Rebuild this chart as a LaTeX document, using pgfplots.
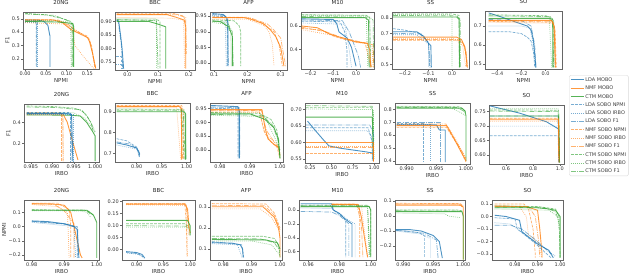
\documentclass[border=0pt]{standalone}
\usepackage{fontspec}
\setmainfont{DejaVu Sans}
\usepackage{pgfplots}
\pgfplotsset{compat=1.18}
\definecolor{tb}{HTML}{1F77B4}
\definecolor{to}{HTML}{FF7F0E}
\definecolor{tg}{HTML}{2CA02C}
\newcommand\fs{\fontsize{5}{6}\selectfont}
\newcommand\ft{\fontsize{5.5}{6.5}\selectfont}
\newcommand\pl[2]{\addplot[#1] coordinates {#2};}
\pgfplotsset{
 panel/.style={scale only axis, anchor=south west, tick pos=left, tick align=outside,
   major tick length=1.8bp, axis line style={black!60, line width=0.5bp},
   every tick/.style={black!60, line width=0.4bp},
   ticklabel style={font=\fs, text=black!80, inner sep=1.3bp},
   title style={font=\ft, text=black!85, at={(0.5,1)}, anchor=south, inner sep=1.2bp},
   xlabel style={font=\ft, text=black!80, inner sep=1bp},
   ylabel style={font=\ft, text=black!80, inner sep=1bp},
   every axis plot/.append style={line join=round, mark=none}},
 mobo/.style={line width=0.9bp, opacity=0.8},
 sn/.style={line width=0.7bp, opacity=0.6, dash pattern=on 2.8bp off 1.2bp},
 si/.style={line width=0.7bp, opacity=0.6, dash pattern=on 0.75bp off 1.25bp},
 sf/.style={line width=0.7bp, opacity=0.6, dash pattern=on 4.8bp off 1.2bp on 0.75bp off 1.2bp},
 Lm/.style={tb, mobo}, Ln/.style={tb, sn}, Li/.style={tb, si}, Lf/.style={tb, sf},
 Nm/.style={to, mobo}, Nn/.style={to, sn}, Ni/.style={to, si}, Nf/.style={to, sf},
 Cm/.style={tg, mobo}, Cn/.style={tg, sn}, Ci/.style={tg, si}, Cf/.style={tg, sf},
}
\begin{document}
\begin{tikzpicture}
\useasboundingbox (0,0) rectangle (640bp,277bp);
% ---------------- Row 1 : F1 vs NPMI ----------------
\begin{axis}[panel, at={(23bp,208bp)}, width=76bp, height=57bp, title={20NG}, xlabel={NPMI}, ylabel={F1},
 xmin=-0.005, xmax=0.178, ymin=0.125, ymax=0.55,
 xtick={0,0.05,0.1,0.15}, xticklabels={0.00,0.05,0.10,0.15}, ytick={0.2,0.3,0.4,0.5}, yticklabels={0.2,0.3,0.4,0.5}]
\pl{Lm}{(0,0.49)(0.03,0.49)(0.045,0.48)(0.055,0.45)(0.058,0.40)(0.06,0.37)(0.06,0.14)}
\pl{Ln}{(0,0.48)(0.025,0.48)(0.027,0.46)(0.027,0.14)}
\pl{Li}{(0,0.47)(0.03,0.47)(0.03,0.14)}
\pl{Lf}{(0,0.485)(0.026,0.485)(0.028,0.45)(0.028,0.14)}
\pl{Nm}{(0,0.49)(0.07,0.49)(0.09,0.47)(0.11,0.42)(0.13,0.39)(0.15,0.36)(0.155,0.33)(0.162,0.25)(0.17,0.13)}
\pl{Nn}{(0,0.495)(0.06,0.495)(0.1,0.47)(0.12,0.41)(0.15,0.37)(0.16,0.3)(0.168,0.13)}
\pl{Ni}{(0,0.47)(0.1,0.46)(0.115,0.40)(0.12,0.3)(0.14,0.22)(0.165,0.13)}
\pl{Nf}{(0,0.49)(0.08,0.49)(0.11,0.44)(0.14,0.38)(0.155,0.35)(0.165,0.2)(0.17,0.13)}
\pl{Cm}{(0,0.48)(0.08,0.475)(0.115,0.465)(0.117,0.44)(0.117,0.14)}
\pl{Cn}{(0,0.54)(0.05,0.53)(0.09,0.5)(0.11,0.48)(0.113,0.45)(0.113,0.14)}
\pl{Ci}{(0,0.49)(0.1,0.48)(0.11,0.45)(0.111,0.14)}
\pl{Cf}{(0,0.535)(0.07,0.525)(0.1,0.49)(0.115,0.46)(0.115,0.14)}
\end{axis}
\begin{axis}[panel, at={(115bp,207bp)}, width=80bp, height=58bp, title={BBC}, xlabel={NPMI},
 xmin=-0.04, xmax=0.22, ymin=0.72, ymax=0.935,
 xtick={0,0.1,0.2}, xticklabels={0.0,0.1,0.2}, ytick={0.75,0.8,0.85,0.9}, yticklabels={0.75,0.80,0.85,0.90}]
\pl{Lm}{(-0.033,0.905)(-0.028,0.90)(-0.022,0.85)(-0.017,0.80)(-0.012,0.725)}
\pl{Ln}{(-0.036,0.77)(-0.02,0.77)(-0.02,0.725)}
\pl{Li}{(-0.036,0.74)(-0.015,0.74)(-0.015,0.725)}
\pl{Lf}{(-0.035,0.905)(-0.03,0.9)(-0.02,0.82)(-0.014,0.725)}
\pl{Nm}{(-0.035,0.925)(0.13,0.925)(0.16,0.915)(0.185,0.905)(0.19,0.88)(0.19,0.725)}
\pl{Nn}{(-0.035,0.93)(0.15,0.93)(0.183,0.92)(0.188,0.90)(0.188,0.78)}
\pl{Ni}{(-0.035,0.915)(0.14,0.912)(0.183,0.905)(0.186,0.725)}
\pl{Nf}{(-0.035,0.927)(0.16,0.925)(0.19,0.915)(0.192,0.78)}
\pl{Cm}{(-0.035,0.90)(0.07,0.90)(0.1,0.89)(0.125,0.88)(0.125,0.725)}
\pl{Cn}{(-0.035,0.905)(0.1,0.905)(0.106,0.9)(0.106,0.725)}
\pl{Ci}{(-0.035,0.91)(0.094,0.91)(0.096,0.725)}
\pl{Cf}{(-0.035,0.907)(0.095,0.903)(0.1,0.725)}
\end{axis}
\begin{axis}[panel, at={(210bp,207bp)}, width=77bp, height=58bp, title={AFP}, xlabel={NPMI},
 xmin=0.088, xmax=0.319, ymin=0.778, ymax=0.963,
 xtick={0.1,0.2,0.3}, xticklabels={0.1,0.2,0.3}, ytick={0.8,0.85,0.9,0.95}, yticklabels={0.80,0.85,0.90,0.95}]
\pl{Lm}{(0.095,0.958)(0.128,0.955)(0.138,0.945)(0.142,0.93)(0.142,0.79)}
\pl{Ln}{(0.095,0.95)(0.135,0.948)(0.14,0.93)(0.14,0.79)}
\pl{Li}{(0.095,0.952)(0.133,0.95)(0.137,0.79)}
\pl{Lf}{(0.095,0.955)(0.13,0.952)(0.14,0.94)(0.143,0.79)}
\pl{Nm}{(0.095,0.945)(0.19,0.945)(0.21,0.94)(0.25,0.925)(0.27,0.905)(0.285,0.885)(0.3,0.85)(0.31,0.79)}
\pl{Nn}{(0.095,0.947)(0.2,0.946)(0.24,0.93)(0.26,0.915)(0.28,0.9)(0.295,0.86)(0.305,0.79)}
\pl{Ni}{(0.095,0.94)(0.2,0.94)(0.25,0.92)(0.265,0.9)(0.275,0.86)(0.28,0.79)}
\pl{Nf}{(0.095,0.946)(0.21,0.944)(0.26,0.925)(0.28,0.905)(0.3,0.88)(0.315,0.79)}
\pl{Cm}{(0.095,0.935)(0.12,0.932)(0.145,0.915)(0.155,0.885)(0.155,0.79)}
\pl{Cn}{(0.095,0.938)(0.16,0.935)(0.175,0.92)(0.18,0.9)(0.18,0.79)}
\pl{Ci}{(0.095,0.93)(0.13,0.925)(0.15,0.9)(0.152,0.79)}
\pl{Cf}{(0.095,0.933)(0.14,0.93)(0.155,0.9)(0.158,0.79)}
\end{axis}
\begin{axis}[panel, at={(301bp,208bp)}, width=73bp, height=57bp, title={M10}, xlabel={NPMI},
 xmin=-0.242, xmax=0.079, ymin=0.237, ymax=0.718,
 xtick={-0.2,-0.1,0}, xticklabels={−0.2,−0.1,0.0}, ytick={0.4,0.6}, yticklabels={0.4,0.6}]
\pl{Cm}{(-0.24,0.67)(0.04,0.67)(0.055,0.65)(0.058,0.25)}
\pl{Cn}{(-0.24,0.695)(0.045,0.69)(0.06,0.67)(0.065,0.25)}
\pl{Ci}{(-0.24,0.69)(0.045,0.685)(0.052,0.25)}
\pl{Cf}{(-0.24,0.68)(0.06,0.675)(0.075,0.65)(0.078,0.25)}
\pl{Lm}{(-0.24,0.66)(-0.1,0.655)(-0.085,0.62)(-0.075,0.55)(-0.04,0.50)(-0.02,0.42)(0.0,0.26)}
\pl{Ln}{(-0.24,0.64)(-0.07,0.635)(-0.05,0.55)(-0.04,0.4)(-0.04,0.25)}
\pl{Li}{(-0.24,0.625)(-0.05,0.615)(-0.03,0.4)(-0.02,0.25)}
\pl{Lf}{(-0.24,0.65)(-0.06,0.645)(-0.03,0.55)(0.01,0.35)(0.02,0.25)}
\pl{Nm}{(-0.24,0.60)(-0.17,0.585)(-0.12,0.535)(-0.08,0.51)(-0.04,0.49)(0.0,0.465)(0.05,0.455)(0.06,0.40)(0.065,0.25)}
\pl{Nn}{(-0.24,0.58)(-0.15,0.565)(-0.1,0.515)(-0.05,0.485)(0.0,0.47)(0.04,0.455)(0.06,0.3)(0.07,0.25)}
\pl{Ni}{(-0.24,0.57)(-0.1,0.52)(0.0,0.46)(0.07,0.445)(0.075,0.25)}
\pl{Nf}{(-0.24,0.59)(-0.13,0.55)(-0.06,0.5)(0.02,0.465)(0.075,0.44)(0.078,0.25)}
\end{axis}
\begin{axis}[panel, at={(392bp,208bp)}, width=77bp, height=57bp, title={SS}, xlabel={NPMI},
 xmin=-0.255, xmax=0.072, ymin=0.47, ymax=0.837,
 xtick={-0.2,-0.1,0}, xticklabels={−0.2,−0.1,0.0}, ytick={0.5,0.6,0.7,0.8}, yticklabels={0.5,0.6,0.7,0.8}]
\pl{Cn}{(-0.25,0.825)(0.0,0.825)(0.03,0.815)(0.03,0.48)}
\pl{Ci}{(-0.25,0.82)(-0.01,0.82)(0.0,0.80)(0.0,0.48)}
\pl{Cm}{(-0.25,0.805)(0.02,0.805)(0.03,0.79)(0.032,0.48)}
\pl{Cf}{(-0.25,0.815)(0.02,0.812)(0.035,0.79)(0.035,0.48)}
\pl{Lm}{(-0.25,0.71)(-0.15,0.71)(-0.12,0.68)(-0.1,0.635)(-0.09,0.62)(-0.088,0.48)}
\pl{Ln}{(-0.25,0.73)(-0.2,0.72)(-0.14,0.70)(-0.1,0.64)(-0.095,0.48)}
\pl{Li}{(-0.25,0.69)(-0.15,0.69)(-0.1,0.63)(-0.1,0.48)}
\pl{Lf}{(-0.25,0.70)(-0.13,0.695)(-0.1,0.64)(-0.092,0.48)}
\pl{Nm}{(-0.25,0.675)(0.02,0.675)(0.04,0.66)(0.055,0.61)(0.065,0.48)}
\pl{Nn}{(-0.25,0.655)(0.03,0.655)(0.05,0.63)(0.06,0.55)(0.062,0.48)}
\pl{Ni}{(-0.25,0.665)(0.01,0.665)(0.045,0.62)(0.058,0.48)}
\pl{Nf}{(-0.25,0.66)(0.025,0.66)(0.045,0.64)(0.06,0.58)(0.066,0.48)}
\end{axis}
\begin{axis}[panel, at={(485bp,208bp)}, width=77bp, height=58bp, title={SO}, xlabel={NPMI},
 xmin=-0.5, xmax=0.135, ymin=0.472, ymax=0.78,
 xtick={-0.4,-0.2,0}, xticklabels={−0.4,−0.2,0.0}, ytick={0.5,0.6,0.7}, yticklabels={0.5,0.6,0.7}]
\pl{Lm}{(-0.47,0.77)(-0.35,0.745)(-0.25,0.722)(-0.15,0.70)(-0.12,0.68)(-0.1,0.62)(-0.09,0.55)(-0.08,0.48)}
\pl{Ln}{(-0.47,0.67)(-0.3,0.67)(-0.2,0.66)(-0.15,0.64)(-0.12,0.62)(-0.1,0.56)(-0.09,0.48)}
\pl{Li}{(-0.47,0.70)(-0.2,0.70)(-0.13,0.69)(-0.1,0.6)(-0.085,0.48)}
\pl{Lf}{(-0.47,0.735)(-0.2,0.73)(-0.12,0.70)(-0.09,0.6)(-0.08,0.48)}
\pl{Cn}{(-0.47,0.76)(0.0,0.755)(0.05,0.745)(0.068,0.72)(0.07,0.48)}
\pl{Cm}{(-0.47,0.74)(0.04,0.74)(0.058,0.72)(0.06,0.48)}
\pl{Ci}{(-0.47,0.75)(0.03,0.745)(0.05,0.48)}
\pl{Cf}{(-0.47,0.755)(0.04,0.75)(0.062,0.73)(0.065,0.48)}
\pl{Nm}{(-0.47,0.73)(0.05,0.73)(0.07,0.70)(0.08,0.48)}
\pl{Nn}{(-0.47,0.725)(0.06,0.72)(0.078,0.68)(0.088,0.48)}
\pl{Ni}{(-0.47,0.72)(0.065,0.715)(0.085,0.48)}
\pl{Nf}{(-0.47,0.728)(0.055,0.725)(0.075,0.69)(0.083,0.48)}
\end{axis}
% ---------------- Row 2 : F1 vs IRBO ----------------
\begin{axis}[panel, at={(24bp,115bp)}, width=75bp, height=58bp, title={20NG}, xlabel={IRBO}, ylabel={F1},
 xmin=0.9834, xmax=1.0009, ymin=0.022, ymax=0.574,
 xtick={0.985,0.99,0.995,1.0}, xticklabels={0.985,0.990,0.995,1.000}, ytick={0.2,0.4}, yticklabels={0.2,0.4}]
\pl{Cn}{(0.984,0.555)(0.99,0.55)(0.995,0.535)(0.997,0.51)(0.998,0.46)(0.999,0.40)(0.9995,0.32)}
\pl{Cm}{(0.984,0.47)(0.994,0.468)(0.9965,0.46)(0.998,0.40)(0.9993,0.32)(1.0,0.27)(1.0,0.03)}
\pl{Ci}{(0.984,0.49)(0.995,0.49)(0.9975,0.44)(0.9995,0.34)(1.0,0.30)}
\pl{Cf}{(0.984,0.545)(0.991,0.54)(0.9965,0.52)(0.998,0.47)(0.9992,0.38)(1.0,0.31)}
\pl{Nm}{(0.984,0.48)(0.9925,0.48)(0.9935,0.4)(0.9945,0.25)(0.996,0.04)}
\pl{Nn}{(0.984,0.485)(0.9922,0.485)(0.9922,0.03)}
\pl{Ni}{(0.984,0.47)(0.9924,0.47)(0.9926,0.03)}
\pl{Nf}{(0.984,0.49)(0.992,0.49)(0.9925,0.44)(0.9925,0.03)}
\pl{Lm}{(0.984,0.485)(0.993,0.485)(0.9945,0.475)(0.9948,0.03)}
\pl{Ln}{(0.984,0.49)(0.9942,0.49)(0.9942,0.03)}
\pl{Li}{(0.984,0.48)(0.995,0.48)(0.995,0.03)}
\pl{Lf}{(0.984,0.487)(0.9944,0.485)(0.9946,0.03)}
\end{axis}
\begin{axis}[panel, at={(115bp,115bp)}, width=75bp, height=59bp, title={BBC}, xlabel={IRBO},
 xmin=0.8567, xmax=1.0067, ymin=0.658, ymax=0.942,
 xtick={0.9,0.95,1.0}, xticklabels={0.90,0.95,1.00}, ytick={0.7,0.8,0.9}, yticklabels={0.7,0.8,0.9}]
\pl{Nm}{(0.86,0.925)(0.985,0.925)(0.99,0.915)(0.99,0.67)}
\pl{Nn}{(0.86,0.93)(0.99,0.93)(0.994,0.9)(0.994,0.67)}
\pl{Ni}{(0.86,0.92)(0.98,0.92)(0.988,0.67)}
\pl{Nf}{(0.86,0.927)(0.988,0.925)(0.992,0.67)}
\pl{Cm}{(0.86,0.90)(0.995,0.90)(0.998,0.89)(0.998,0.67)}
\pl{Cn}{(0.86,0.91)(0.99,0.91)(0.995,0.67)}
\pl{Ci}{(0.86,0.915)(0.995,0.912)(1.0,0.67)}
\pl{Cf}{(0.86,0.905)(0.993,0.905)(0.997,0.67)}
\pl{Lm}{(0.86,0.75)(0.88,0.74)(0.9,0.725)(0.905,0.70)(0.905,0.685)}
\pl{Ln}{(0.86,0.77)(0.88,0.76)(0.9,0.73)(0.906,0.69)}
\pl{Li}{(0.86,0.74)(0.9,0.72)(0.906,0.68)}
\pl{Lf}{(0.86,0.755)(0.885,0.745)(0.903,0.72)(0.907,0.69)}
\end{axis}
\begin{axis}[panel, at={(210bp,115bp)}, width=73bp, height=59bp, title={AFP}, xlabel={IRBO},
 xmin=0.9767, xmax=1.001, ymin=0.757, ymax=0.969,
 xtick={0.98,0.99,1.0}, xticklabels={0.98,0.99,1.00}, ytick={0.8,0.85,0.9,0.95}, yticklabels={0.80,0.85,0.90,0.95}]
\pl{Lm}{(0.977,0.96)(0.986,0.956)(0.9865,0.94)(0.9865,0.77)}
\pl{Ln}{(0.977,0.95)(0.986,0.948)(0.986,0.77)}
\pl{Li}{(0.977,0.952)(0.9862,0.95)(0.9862,0.77)}
\pl{Lf}{(0.977,0.955)(0.9866,0.952)(0.9866,0.77)}
\pl{Nm}{(0.977,0.945)(0.994,0.945)(0.995,0.88)(0.996,0.84)(0.998,0.82)(0.9995,0.81)(1.0,0.78)}
\pl{Nn}{(0.977,0.94)(0.993,0.94)(0.995,0.86)(0.997,0.83)(0.999,0.81)(1.0,0.77)}
\pl{Ni}{(0.977,0.935)(0.9935,0.935)(0.9945,0.87)(0.996,0.85)(0.999,0.82)(1.0,0.79)}
\pl{Nf}{(0.977,0.943)(0.9938,0.942)(0.9955,0.87)(0.998,0.83)(1.0,0.8)}
\pl{Cm}{(0.977,0.93)(0.99,0.93)(0.995,0.91)(0.998,0.88)(0.9995,0.84)(1.0,0.77)}
\pl{Cn}{(0.977,0.935)(0.993,0.932)(0.997,0.91)(0.999,0.87)(1.0,0.77)}
\pl{Ci}{(0.977,0.925)(0.995,0.92)(0.998,0.85)(1.0,0.8)}
\pl{Cf}{(0.977,0.928)(0.994,0.925)(0.9975,0.89)(0.9995,0.83)(1.0,0.78)}
\end{axis}
\begin{axis}[panel, at={(305bp,114bp)}, width=74bp, height=60bp, title={M10}, xlabel={IRBO},
 xmin=0.19, xmax=1.058, ymin=0.538, ymax=0.72,
 xtick={0.25,0.5,0.75,1.0}, xticklabels={0.25,0.50,0.75,1.00}, ytick={0.55,0.6,0.65,0.7}, yticklabels={0.55,0.60,0.65,0.70}]
\pl{Cf}{(0.2,0.712)(0.98,0.71)(0.995,0.56)}
\pl{Cn}{(0.2,0.706)(0.97,0.706)(0.99,0.69)(0.995,0.55)}
\pl{Cm}{(0.2,0.677)(0.98,0.677)(0.99,0.55)}
\pl{Ci}{(0.2,0.702)(0.99,0.70)(1.0,0.55)}
\pl{Lm}{(0.22,0.665)(0.3,0.64)(0.4,0.61)(0.47,0.59)(0.6,0.583)(0.9,0.572)(0.99,0.568)(0.99,0.545)}
\pl{Lf}{(0.2,0.653)(0.95,0.653)(0.99,0.63)(0.99,0.545)}
\pl{Li}{(0.2,0.636)(0.92,0.636)(0.97,0.62)(0.98,0.545)}
\pl{Ln}{(0.2,0.645)(0.93,0.645)(0.98,0.6)(0.98,0.545)}
\pl{Nm}{(0.2,0.60)(0.99,0.60)(0.99,0.545)}
\pl{Nn}{(0.2,0.568)(0.99,0.568)(0.99,0.545)}
\pl{Ni}{(0.2,0.59)(0.99,0.59)(0.99,0.545)}
\pl{Nf}{(0.2,0.585)(0.99,0.585)(0.99,0.545)}
\end{axis}
\begin{axis}[panel, at={(395bp,113bp)}, width=75bp, height=61bp, title={SS}, xlabel={IRBO},
 xmin=0.98803, xmax=1.00067, ymin=0.375, ymax=0.85,
 xtick={0.99,0.995,1.0}, xticklabels={0.990,0.995,1.000}, ytick={0.4,0.5,0.6,0.7,0.8}, yticklabels={0.4,0.5,0.6,0.7,0.8}]
\pl{Cm}{(0.9883,0.81)(0.9993,0.81)(0.9998,0.79)(1.0,0.75)(1.0,0.40)}
\pl{Cn}{(0.9883,0.82)(0.999,0.82)(0.9995,0.80)(1.0,0.78)}
\pl{Ci}{(0.9883,0.825)(0.997,0.82)(0.9985,0.79)(0.9993,0.77)(1.0,0.75)}
\pl{Cf}{(0.9883,0.815)(0.9985,0.815)(0.9995,0.79)(1.0,0.77)}
\pl{Lf}{(0.9883,0.70)(0.9957,0.70)(0.9957,0.39)}
\pl{Ln}{(0.9883,0.69)(0.9928,0.69)(0.9928,0.39)}
\pl{Li}{(0.9883,0.685)(0.994,0.685)(0.994,0.39)}
\pl{Lm}{(0.9883,0.68)(0.995,0.68)(0.9955,0.64)(0.9965,0.64)(0.9965,0.39)}
\pl{Nm}{(0.9883,0.675)(0.9967,0.675)(0.998,0.57)(1.0,0.40)}
\pl{Nn}{(0.9883,0.66)(0.9967,0.66)(0.9985,0.53)(1.0,0.39)}
\pl{Ni}{(0.9883,0.665)(0.997,0.665)(0.9985,0.55)(1.0,0.41)}
\pl{Nf}{(0.9883,0.687)(0.9966,0.687)(0.9982,0.56)(1.0,0.42)}
\end{axis}
\begin{axis}[panel, at={(489bp,113bp)}, width=75bp, height=59bp, title={SO}, xlabel={IRBO},
 xmin=0.474, xmax=1.03, ymin=0.569, ymax=0.773,
 xtick={0.6,0.8,1.0}, xticklabels={0.6,0.8,1.0}, ytick={0.6,0.65,0.7,0.75}, yticklabels={0.60,0.65,0.70,0.75},
 legend style={at={(1.067,1.508)}, anchor=north west, font=\fs, text=black!75, draw=black!15, rounded corners=1.5bp,
   inner sep=1.2bp, row sep=1.3bp, nodes={text height=4bp, text depth=1bp, inner sep=1bp},
   /tikz/every even column/.append style={column sep=1bp}},
 legend cell align=left,
 legend image code/.code={\draw[#1] (0bp,0bp) -- (13bp,0bp);}]
\addlegendimage{Lm}\addlegendimage{Nm}\addlegendimage{Cm}
\addlegendimage{Ln}\addlegendimage{Li}\addlegendimage{Lf}
\addlegendimage{Nn}\addlegendimage{Ni}\addlegendimage{Nf}
\addlegendimage{Cn}\addlegendimage{Ci}\addlegendimage{Cf}
\legend{LDA MOBO,NMF MOBO,CTM MOBO,LDA SOBO NPMI,LDA SOBO IRBO,LDA SOBO F1,NMF SOBO NPMI,NMF SOBO IRBO,NMF SOBO F1,CTM SOBO NPMI,CTM SOBO IRBO,CTM SOBO F1}
\pl{Lm,forget plot}{(0.48,0.77)(0.7,0.745)(0.9,0.715)(0.99,0.69)(0.995,0.575)}
\pl{Ln,forget plot}{(0.48,0.667)(0.99,0.667)(0.995,0.575)}
\pl{Li,forget plot}{(0.48,0.70)(0.99,0.70)(0.995,0.575)}
\pl{Lf,forget plot}{(0.48,0.735)(0.985,0.735)(0.99,0.575)}
\pl{Cm,forget plot}{(0.48,0.735)(0.99,0.735)(0.997,0.575)}
\pl{Cn,forget plot}{(0.48,0.756)(0.99,0.755)(0.998,0.575)}
\pl{Ci,forget plot}{(0.48,0.76)(0.985,0.76)(0.996,0.575)}
\pl{Cf,forget plot}{(0.48,0.752)(0.99,0.75)(0.997,0.575)}
\pl{Nm,forget plot}{(0.48,0.722)(0.99,0.722)(0.993,0.575)}
\pl{Nn,forget plot}{(0.48,0.727)(0.99,0.727)(0.992,0.575)}
\pl{Ni,forget plot}{(0.48,0.717)(0.99,0.717)(0.994,0.575)}
\pl{Nf,forget plot}{(0.48,0.725)(0.988,0.725)(0.993,0.575)}
\end{axis}
% ---------------- Row 3 : NPMI vs IRBO ----------------
\begin{axis}[panel, at={(24bp,17bp)}, width=75bp, height=60bp, title={20NG}, xlabel={IRBO}, ylabel={NPMI},
 xmin=0.9776, xmax=1.0007, ymin=-0.235, ymax=0.187,
 xtick={0.98,0.99,1.0}, xticklabels={0.98,0.99,1.00}, ytick={-0.2,-0.1,0,0.1}, yticklabels={−0.2,−0.1,0.0,0.1}]
\pl{Nm}{(0.98,0.16)(0.986,0.16)(0.99,0.15)(0.992,0.1)(0.993,0.0)(0.994,-0.1)(0.995,-0.2)(0.9955,-0.22)}
\pl{Nn}{(0.98,0.165)(0.988,0.165)(0.9915,0.12)(0.992,0.0)(0.992,-0.22)}
\pl{Ni}{(0.98,0.155)(0.988,0.14)(0.991,0.1)(0.9915,-0.22)}
\pl{Nf}{(0.98,0.162)(0.987,0.155)(0.99,0.11)(0.993,0.02)(0.993,-0.22)}
\pl{Cm}{(0.98,0.115)(0.997,0.115)(0.999,0.08)(1.0,0.03)(1.0,-0.22)}
\pl{Cn}{(0.98,0.118)(0.996,0.117)(0.998,0.1)(0.999,0.08)}
\pl{Ci}{(0.98,0.112)(0.995,0.11)(0.997,0.1)(0.998,0.07)}
\pl{Cf}{(0.98,0.116)(0.9965,0.115)(0.998,0.09)}
\pl{Lm}{(0.98,0.04)(0.985,0.035)(0.99,0.02)(0.993,0.0)(0.994,-0.02)(0.9945,-0.22)}
\pl{Ln}{(0.98,0.035)(0.99,0.02)(0.994,0.0)(0.994,-0.22)}
\pl{Li}{(0.98,0.03)(0.993,0.0)(0.9935,-0.22)}
\pl{Lf}{(0.98,0.038)(0.991,0.015)(0.9942,-0.01)(0.9942,-0.22)}
\end{axis}
\begin{axis}[panel, at={(122bp,17bp)}, width=73bp, height=60bp, title={BBC}, xlabel={IRBO},
 xmin=0.8724, xmax=1.009, ymin=-0.043, ymax=0.207,
 xtick={0.9,0.95,1.0}, xticklabels={0.90,0.95,1.00}, ytick={0,0.05,0.1,0.15,0.2}, yticklabels={0.00,0.05,0.10,0.15,0.20}]
\pl{Nm}{(0.88,0.19)(0.99,0.19)(0.995,0.17)(0.998,0.09)(1.0,0.07)}
\pl{Nn}{(0.88,0.193)(0.99,0.193)(0.993,0.1)(0.994,-0.03)}
\pl{Ni}{(0.88,0.187)(0.993,0.185)(0.995,-0.03)}
\pl{Nf}{(0.88,0.19)(0.992,0.19)(0.996,0.12)(0.998,0.06)}
\pl{Cm}{(0.88,0.122)(0.995,0.122)(1.0,0.1)(1.0,0.06)}
\pl{Cn}{(0.88,0.108)(0.99,0.108)(0.998,0.095)}
\pl{Ci}{(0.88,0.094)(0.99,0.094)(0.998,0.085)}
\pl{Cf}{(0.88,0.1)(0.992,0.098)(0.998,0.09)}
\pl{Lm}{(0.88,-0.008)(0.9,-0.012)(0.91,-0.02)(0.915,-0.035)}
\pl{Ln}{(0.88,-0.012)(0.9,-0.016)(0.912,-0.03)}
\pl{Li}{(0.882,-0.014)(0.905,-0.02)(0.914,-0.035)}
\end{axis}
\begin{axis}[panel, at={(210bp,17bp)}, width=72bp, height=60bp, title={AFP}, xlabel={IRBO},
 xmin=0.9753, xmax=1.0007, ymin=0.048, ymax=0.332,
 xtick={0.98,0.99,1.0}, xticklabels={0.98,0.99,1.00}, ytick={0.1,0.2,0.3}, yticklabels={0.1,0.2,0.3}]
\pl{Nm}{(0.976,0.30)(0.994,0.30)(0.998,0.25)(0.9995,0.2)(1.0,0.15)(1.0,0.06)}
\pl{Nn}{(0.976,0.315)(0.995,0.313)(0.998,0.27)(1.0,0.2)}
\pl{Ni}{(0.976,0.29)(0.993,0.29)(0.997,0.25)(1.0,0.18)}
\pl{Nf}{(0.976,0.307)(0.9945,0.305)(0.998,0.26)(1.0,0.19)}
\pl{Cn}{(0.976,0.16)(0.994,0.16)(0.998,0.15)(0.9995,0.12)(1.0,0.06)}
\pl{Cm}{(0.976,0.145)(0.995,0.143)(0.999,0.13)(1.0,0.1)}
\pl{Ci}{(0.976,0.138)(0.99,0.138)(0.997,0.12)(1.0,0.07)}
\pl{Cf}{(0.976,0.15)(0.993,0.148)(0.998,0.13)(1.0,0.09)}
\pl{Lm}{(0.976,0.13)(0.983,0.128)(0.986,0.12)(0.9868,0.1)(0.987,0.06)}
\pl{Ln}{(0.976,0.135)(0.9865,0.12)(0.9872,0.06)}
\pl{Li}{(0.976,0.125)(0.985,0.12)(0.9866,0.06)}
\end{axis}
\begin{axis}[panel, at={(299bp,17bp)}, width=77bp, height=60bp, title={M10}, xlabel={IRBO},
 xmin=0.954, xmax=1.0034, ymin=-0.72, ymax=0.144,
 xtick={0.96,0.98,1.0}, xticklabels={0.96,0.98,1.00}, ytick={-0.6,-0.4,-0.2,0}, yticklabels={−0.6,−0.4,−0.2,0.0}]
\pl{Lm}{(0.955,0.09)(0.975,0.09)(0.976,0.0)(0.98,-0.05)(0.983,-0.12)(0.986,-0.17)(0.988,-0.2)(0.988,-0.68)}
\pl{Ln}{(0.955,0.07)(0.974,0.07)(0.976,0.0)(0.982,-0.1)(0.984,-0.15)(0.984,-0.68)}
\pl{Li}{(0.955,0.03)(0.975,0.02)(0.98,-0.05)(0.986,-0.15)(0.99,-0.2)(0.99,-0.68)}
\pl{Lf}{(0.955,-0.02)(0.975,-0.03)(0.98,-0.08)(0.986,-0.2)(0.986,-0.68)}
\pl{Nm}{(0.975,0.08)(0.992,0.08)(0.994,-0.1)(0.996,-0.4)(0.998,-0.68)}
\pl{Nn}{(0.975,0.085)(0.99,0.085)(0.993,0.0)(0.993,-0.68)}
\pl{Ni}{(0.975,0.075)(0.994,0.07)(0.997,-0.5)(0.998,-0.68)}
\pl{Nf}{(0.975,0.082)(0.991,0.08)(0.994,-0.2)(0.995,-0.68)}
\pl{Cm}{(0.955,0.05)(0.999,0.05)(1.0,0.0)(1.0,-0.68)}
\pl{Cn}{(0.955,0.07)(0.998,0.07)(1.0,0.02)(1.0,-0.68)}
\pl{Ci}{(0.955,0.04)(0.998,0.04)(0.999,-0.68)}
\pl{Cf}{(0.955,0.06)(0.998,0.06)(0.9995,-0.68)}
\end{axis}
\begin{axis}[panel, at={(395bp,17bp)}, width=70bp, height=60bp, title={SS}, xlabel={IRBO},
 xmin=0.98858, xmax=1.0003, ymin=-0.293, ymax=0.107,
 xtick={0.99,0.995,1.0}, xticklabels={0.990,0.995,1.000}, ytick={-0.2,-0.1,0,0.1}, yticklabels={−0.2,−0.1,0.0,0.1}]
\pl{Nm}{(0.9887,0.073)(0.9995,0.073)(1.0,0.06)(1.0,-0.29)}
\pl{Nn}{(0.9887,0.085)(0.9995,0.083)(1.0,0.07)}
\pl{Ni}{(0.9887,0.078)(0.999,0.078)(1.0,0.06)}
\pl{Nf}{(0.9887,0.08)(0.9993,0.08)(1.0,0.065)}
\pl{Cm}{(0.9887,0.03)(0.9998,0.03)(1.0,0.0)(1.0,-0.29)}
\pl{Cn}{(0.9887,0.04)(0.999,0.04)(0.9998,0.035)}
\pl{Ci}{(0.9887,0.02)(0.997,0.015)(0.9975,0.0)(0.9995,-0.01)}
\pl{Cf}{(0.9887,0.035)(0.9995,0.033)}
\pl{Lm}{(0.9887,-0.09)(0.991,-0.09)(0.993,-0.1)(0.995,-0.13)(0.996,-0.17)(0.9965,-0.28)}
\pl{Ln}{(0.9887,-0.095)(0.9925,-0.11)(0.9935,-0.13)(0.9935,-0.28)}
\pl{Li}{(0.9887,-0.1)(0.993,-0.12)(0.9945,-0.15)(0.9945,-0.28)}
\pl{Lf}{(0.9887,-0.092)(0.9935,-0.115)(0.9955,-0.16)(0.9958,-0.28)}
\end{axis}
\begin{axis}[panel, at={(492bp,17bp)}, width=71bp, height=60bp, title={SO}, xlabel={IRBO},
 xmin=0.9698, xmax=1.0013, ymin=-0.348, ymax=0.132,
 xtick={0.98,0.99,1.0}, xticklabels={0.98,0.99,1.00}, ytick={-0.3,-0.2,-0.1,0,0.1}, yticklabels={−0.3,−0.2,−0.1,0.0,0.1}]
\pl{Nn}{(0.971,0.10)(0.984,0.10)(0.986,0.06)(0.988,-0.1)(0.989,-0.3)(0.989,-0.33)}
\pl{Nm}{(0.971,0.08)(0.985,0.08)(0.99,0.05)(0.991,-0.1)(0.992,-0.3)(0.992,-0.33)}
\pl{Ni}{(0.971,0.09)(0.982,0.08)(0.985,0.0)(0.986,-0.15)(0.99,-0.2)(0.992,-0.33)}
\pl{Nf}{(0.971,0.085)(0.986,0.08)(0.989,0.0)(0.9905,-0.2)(0.991,-0.33)}
\pl{Cm}{(0.971,0.07)(0.99,0.07)(0.995,0.06)(0.998,0.05)(1.0,0.0)(1.0,-0.33)}
\pl{Cn}{(0.971,0.085)(0.99,0.08)(0.998,0.06)(0.9995,0.0)(1.0,-0.33)}
\pl{Ci}{(0.971,0.06)(0.995,0.05)(0.999,0.0)(0.9995,-0.1)}
\pl{Cf}{(0.971,0.075)(0.993,0.07)(0.998,0.04)(0.9995,-0.05)}
\pl{Lm}{(0.971,0.01)(0.976,0.0)(0.982,-0.03)(0.983,-0.12)(0.985,-0.15)(0.99,-0.22)(0.995,-0.27)(0.997,-0.33)}
\pl{Ln}{(0.971,-0.01)(0.98,-0.02)(0.981,-0.1)(0.988,-0.2)(0.996,-0.33)}
\pl{Li}{(0.971,-0.05)(0.978,-0.06)(0.985,-0.15)(0.993,-0.25)(0.998,-0.32)}
\pl{Lf}{(0.971,-0.07)(0.978,-0.07)(0.983,-0.1)(0.99,-0.2)(0.996,-0.3)}
\end{axis}
\end{tikzpicture}
\end{document}
